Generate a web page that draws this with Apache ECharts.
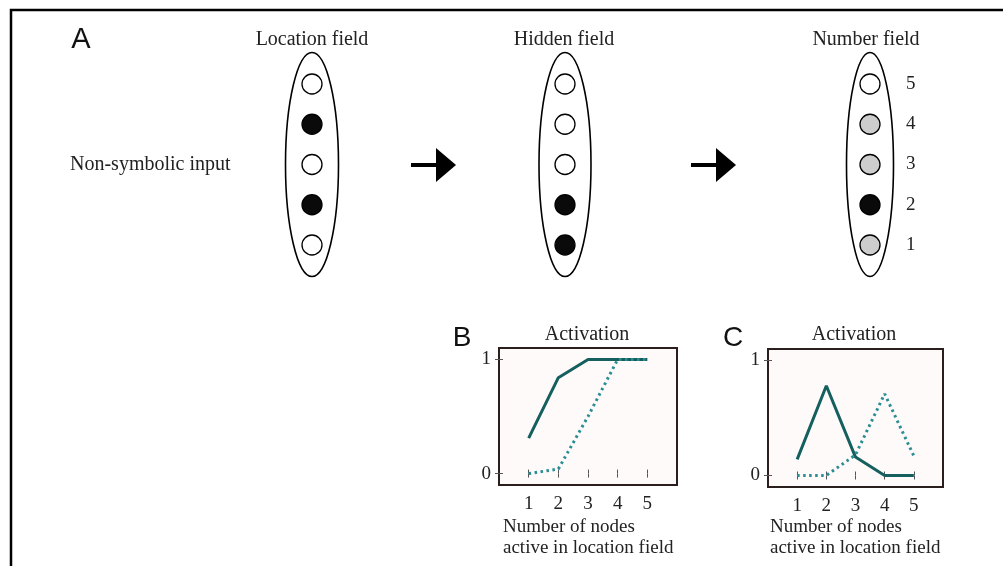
<!DOCTYPE html>
<html>
<head>
<meta charset="utf-8">
<title>Number field model</title>
<script src="https://cdn.jsdelivr.net/npm/echarts@6/dist/echarts.min.js"></script>
<style>
  html, body { margin: 0; padding: 0; background: #fff; }
  #chart { width: 1003px; height: 566px; }
</style>
</head>
<body>
<div id="chart"></div>
<script>
// node states, listed top to bottom (row 5 .. row 1); 0 = off, 0.5 = partial, 1 = on
const nodeRows = [5, 4, 3, 2, 1];
const locationNodes = [0, 1, 0, 1, 0];
const hiddenNodes = [0, 0, 0, 1, 1];
const numberNodes = [0, 0.5, 0.5, 1, 0.5];
const numberLabels = ['1', '2', '3', '4', '5'];

// panels B and C: activation against number of active location nodes
const nodesActive = [1, 2, 3, 4, 5];
const yTicks = [0, 1];
const bSolid = [0.31, 0.84, 1, 1, 1];
const bDotted = [0, 0.04, 0.5, 1, 1];
const cSolid = [0.14, 0.78, 0.16, 0, 0];
const cDotted = [0, 0, 0.18, 0.71, 0.17];

const serif = '"Liberation Serif", "Times New Roman", serif';
const sans = '"Liberation Sans", Arial, sans-serif';
const ink = '#222';
const solidColor = '#15605e';
const dotColor = '#2a8d92';

var myChart = echarts.init(document.getElementById('chart'));

function nodeColor(v) {
    if (v >= 1) return '#0a0a0a';
    if (v > 0) return '#cdcdcd';
    return '#fff';
}

// one tiny grid per field, centred on the field column
var fields = [
    { cx: 312, w: 53, nodes: locationNodes },
    { cx: 565, w: 52, nodes: hiddenNodes },
    { cx: 870, w: 47, nodes: numberNodes }
];

var grids = [], xAxes = [], yAxes = [], series = [];

fields.forEach(function (f, i) {
    grids.push({ left: f.cx - 10, top: 84, width: 20, height: 161 });
    xAxes.push({ gridIndex: i, type: 'value', min: -1, max: 1, show: false });
    yAxes.push({
        gridIndex: i, type: 'value', min: 1, max: 5, interval: 1,
        position: 'right',
        show: i === 2,
        axisLine: { show: false }, axisTick: { show: false }, splitLine: { show: false },
        axisLabel: {
            show: i === 2, margin: 26, color: ink, fontFamily: serif, fontSize: 19,
            formatter: function (v) { return numberLabels[v - 1]; }
        }
    });
    // the ellipse round the field, centred on the middle row
    series.push({
        type: 'custom', xAxisIndex: i, yAxisIndex: i, silent: true,
        data: [[0, 3]],
        renderItem: function (params, api) {
            var c = api.coord([api.value(0), api.value(1)]);
            return {
                type: 'ellipse',
                shape: { cx: c[0], cy: c[1], rx: f.w / 2, ry: 112 },
                style: { fill: 'none', stroke: '#000', lineWidth: 1.6 }
            };
        }
    });
    series.push({
        type: 'scatter', xAxisIndex: i, yAxisIndex: i, silent: true,
        symbol: 'circle', symbolSize: 20, z: 3,
        itemStyle: {
            color: function (p) { return nodeColor(f.nodes[p.dataIndex]); },
            borderColor: '#000', borderWidth: 1.3, opacity: 1
        },
        data: nodeRows.map(function (r) { return [0, r]; })
    });
});

// activation plots
var plots = [
    { left: 499, top: 348, width: 178, height: 137, solid: bSolid, dotted: bDotted },
    { left: 768, top: 349, width: 175, height: 138, solid: cSolid, dotted: cDotted }
];

plots.forEach(function (p) {
    var g = grids.length;
    grids.push({
        left: p.left, top: p.top, width: p.width, height: p.height,
        show: true, backgroundColor: '#fefafa', borderColor: '#2a1f1c', borderWidth: 2
    });
    function tick(values) {
        return { show: true, inside: true, length: 4, customValues: values, lineStyle: { color: '#555', width: 1 } };
    }
    xAxes.push({
        gridIndex: g, type: 'value', min: 0, max: 6, position: 'bottom',
        axisLine: { show: false }, splitLine: { show: false },
        axisTick: tick(nodesActive),
        axisLabel: { customValues: nodesActive, margin: 10, color: ink, fontFamily: serif, fontSize: 19 }
    });
    xAxes.push({
        gridIndex: g, type: 'value', min: 0, max: 6, position: 'top',
        axisLine: { show: false }, splitLine: { show: false }, axisLabel: { show: false },
        axisTick: tick(nodesActive)
    });
    yAxes.push({
        gridIndex: g, type: 'value', min: -0.1, max: 1.1, position: 'left',
        axisLine: { show: false }, splitLine: { show: false },
        axisTick: tick(yTicks),
        axisLabel: { customValues: yTicks, margin: 8, color: ink, fontFamily: serif, fontSize: 19 }
    });
    yAxes.push({
        gridIndex: g, type: 'value', min: -0.1, max: 1.1, position: 'right',
        axisLine: { show: false }, splitLine: { show: false }, axisLabel: { show: false },
        axisTick: tick(yTicks)
    });
    var xi = xAxes.length - 2, yi = yAxes.length - 2;
    series.push({
        type: 'line', xAxisIndex: xi, yAxisIndex: yi, symbol: 'none', silent: true,
        lineStyle: { color: solidColor, width: 3 },
        data: nodesActive.map(function (n, k) { return [n, p.solid[k]]; })
    });
    series.push({
        type: 'line', xAxisIndex: xi, yAxisIndex: yi, symbol: 'none', silent: true,
        lineStyle: { color: dotColor, width: 3, type: [2.5, 3.5] },
        data: nodesActive.map(function (n, k) { return [n, p.dotted[k]]; })
    });
});

function label(x, y, text, font, size, align) {
    return {
        type: 'text', x: x, y: y, silent: true,
        style: {
            text: text, fill: font === sans ? '#111' : ink, fontFamily: font, fontSize: size,
            align: align || 'center', verticalAlign: 'middle',
            textAlign: align || 'center', textVerticalAlign: 'middle', lineHeight: 21
        }
    };
}

function arrow(x0) {
    return {
        type: 'group', silent: true,
        children: [
            { type: 'rect', shape: { x: x0, y: 163, width: 27, height: 4 }, style: { fill: '#000' } },
            { type: 'polygon', shape: { points: [[x0 + 25, 148], [x0 + 45, 165], [x0 + 25, 182]] }, style: { fill: '#000' } }
        ]
    };
}

var option = {
    animation: false,
    backgroundColor: '#fff',
    grid: grids,
    xAxis: xAxes,
    yAxis: yAxes,
    series: series,
    graphic: [
        { type: 'rect', silent: true, shape: { x: 11, y: 10, width: 1200, height: 800 },
          style: { fill: 'none', stroke: '#000', lineWidth: 2.5 } },
        label(81, 40, 'A', sans, 29),
        label(462, 338, 'B', sans, 28),
        label(733, 338, 'C', sans, 28),
        label(312, 40, 'Location field', serif, 20),
        label(564, 40, 'Hidden field', serif, 20),
        label(866, 40, 'Number field', serif, 20),
        label(70, 165, 'Non-symbolic input', serif, 20, 'left'),
        label(587, 335, 'Activation', serif, 20),
        label(854, 335, 'Activation', serif, 20),
        label(503, 538, 'Number of nodes\nactive in location field', serif, 19, 'left'),
        label(770, 538, 'Number of nodes\nactive in location field', serif, 19, 'left'),
        arrow(411),
        arrow(691)
    ]
};

myChart.setOption(option);
</script>
</body>
</html>
